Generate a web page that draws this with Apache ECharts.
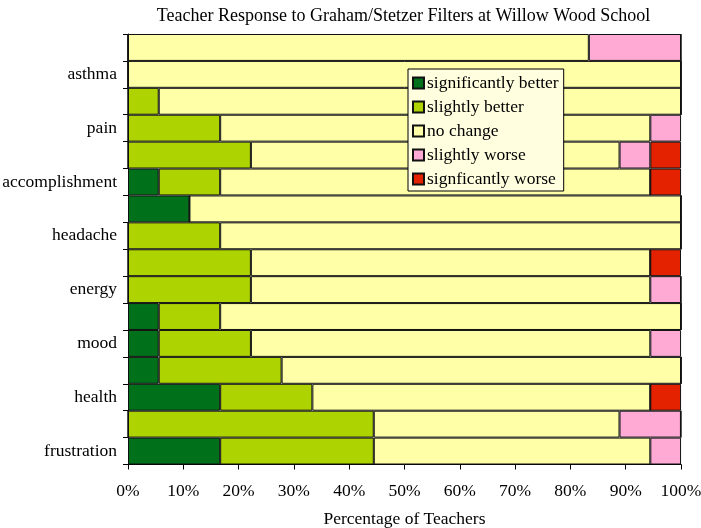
<!DOCTYPE html>
<html>
<head>
<meta charset="utf-8">
<script src="https://cdn.jsdelivr.net/npm/echarts@6/dist/echarts.min.js"></script>
<style>html,body{margin:0;padding:0;background:#fff}#c{width:701px;height:528px}</style>
</head>
<body>
<div id="c"></div>
<script>
// categories from bottom to top; hidden (unlabelled) rows get distinct names
const categories = ['frustration','frustration b','health','health b','mood','mood b','energy','energy b',
  'headache','headache b','accomplishment','accomplishment b','pain','pain b','asthma','asthma b'];
const seriesNames = ['significantly better','slightly better','no change','slightly worse','signficantly worse'];
const sigBetter   = [16.67, 0, 16.67, 5.56, 5.56, 5.56, 0, 0, 0, 11.11, 5.56, 0, 0, 0, 0, 0];
const slBetter    = [27.78, 44.44, 16.67, 22.22, 16.67, 11.11, 22.22, 22.22, 16.67, 0, 11.11, 22.22, 16.67, 5.56, 0, 0];
const noChange    = [50.00, 44.44, 61.11, 72.22, 72.22, 83.33, 72.22, 72.22, 83.33, 88.89, 77.78, 66.67, 77.78, 94.44, 100, 83.33];
const slWorse     = [5.56, 11.11, 0, 0, 5.56, 0, 5.56, 0, 0, 0, 0, 5.56, 5.56, 0, 0, 16.67];
const sigWorse    = [0, 0, 5.56, 0, 0, 0, 0, 5.56, 0, 0, 5.56, 5.56, 0, 0, 0, 0];
const xTicks = [0,10,20,30,40,50,60,70,80,90,100];

const colors = ['#00701a','#add300','#ffffa8','#ffaad5','#e52200'];
const values = [sigBetter, slBetter, noChange, slWorse, sigWorse];
const font = 'Liberation Serif';
const fs = 17.5;

const chart = echarts.init(document.getElementById('c'), null, {renderer:'canvas'});
chart.setOption({
  animation:false,
  textStyle:{fontFamily:font},
  title:{text:'Teacher Response to Graham/Stetzer Filters at Willow Wood School',
    left:398.5, textAlign:'center', top:2,
    textStyle:{fontFamily:font, fontSize:18, fontWeight:'normal', color:'#000'}},
  grid:{left:128, right:20, top:34, bottom:63.5, containLabel:false, outerBoundsMode:'none'},
  legend:{
    orient:'vertical', left:408, top:69,
    backgroundColor:'#ffffe0', borderColor:'#000', borderWidth:1,
    padding:[5,5,3,4], itemGap:6, itemWidth:11, itemHeight:11, icon:'rect',
    textStyle:{fontFamily:font, fontSize:fs, color:'#000', padding:[0,0,0,-2], lineHeight:17.5},
    data:seriesNames
  },
  xAxis:{type:'value', min:0, max:100, interval:10,
    name:'Percentage of Teachers', nameLocation:'middle', nameGap:46,
    nameTextStyle:{fontFamily:font, fontSize:fs, color:'#000'},
    axisLine:{show:true, lineStyle:{color:'#000'}},
    axisTick:{show:true, length:5, lineStyle:{color:'#000'}},
    axisLabel:{formatter:'{value}%', fontFamily:font, fontSize:fs, color:'#000', margin:18},
    splitLine:{show:false},
    data:xTicks
  },
  yAxis:{type:'category', data:categories,
    axisLine:{show:true, lineStyle:{color:'#000'}},
    axisTick:{show:true, interval:0, length:5, lineStyle:{color:'#000'}},
    axisLabel:{interval:1, fontFamily:font, fontSize:fs, color:'#000', margin:11}
  },
  series: seriesNames.map((n,i)=>({
    name:n, type:'bar', stack:'all', data:values[i],
    barCategoryGap:'0%', barWidth:'100%',
    itemStyle:{color:colors[i], borderColor:'#111', borderWidth:1}
  }))
});
</script>
</body>
</html>
